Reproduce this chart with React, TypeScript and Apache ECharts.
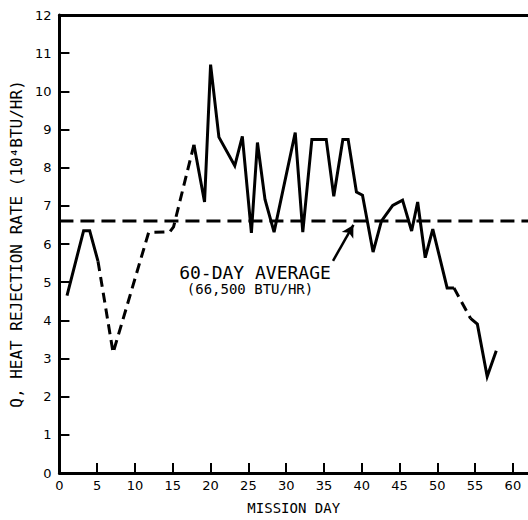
import React, { useEffect, useRef } from "react";
import * as echarts from "echarts";

const xTicks = [0, 5, 10, 15, 20, 25, 30, 35, 40, 45, 50, 55, 60];
const yTicks = [0, 1, 2, 3, 4, 5, 6, 7, 8, 9, 10, 11, 12];

const solidA: [number, number][] = [[1, 4.65], [3.2, 6.35], [4, 6.35], [5.1, 5.55]];
const dashedA: [number, number][] = [[5.1, 5.55], [7.1, 3.15], [11.8, 6.3], [14.6, 6.32], [15.1, 6.45], [17.8, 8.6]];
const solidB: [number, number][] = [
  [17.8, 8.6], [19.2, 7.1], [20.0, 10.7], [21.1, 8.8], [23.2, 8.05], [24.2, 8.82],
  [25.4, 6.29], [26.2, 8.66], [27.2, 7.17], [28.4, 6.31], [31.2, 8.92], [32.2, 6.31],
  [33.4, 8.74], [35.3, 8.74], [36.3, 7.25], [37.5, 8.74], [38.2, 8.74], [39.3, 7.36],
  [40.1, 7.28], [41.5, 5.79], [42.6, 6.6], [44.1, 7.01], [45.4, 7.15], [46.6, 6.34],
  [47.4, 7.1], [48.4, 5.64], [49.4, 6.39], [51.3, 4.85], [52.2, 4.85],
];
const dashedB: [number, number][] = [[52.2, 4.85], [54.4, 4.05]];
const solidC: [number, number][] = [[54.4, 4.05], [55.3, 3.9], [56.6, 2.53], [57.8, 3.2]];
const averageValue = 6.6;
const averageLine: [number, number][] = [[0, averageValue], [62, averageValue]];

const FONT = "DejaVu Sans";
const MONO = "DejaVu Sans Mono";

export default function App() {
  const ref = useRef<HTMLDivElement>(null);
  useEffect(() => {
    if (!ref.current) return;
    const chart = echarts.init(ref.current, undefined, { renderer: "svg" });
    const lineSeries = (data: [number, number][], dashed: boolean) => ({
      type: "line",
      data,
      symbol: "none",
      lineStyle: { color: "#000", width: 3, type: dashed ? [10, 6] : "solid", cap: "butt", join: "miter" },
      silent: true,
    });
    chart.setOption({
      animation: false,
      backgroundColor: "#fff",
      textStyle: { fontFamily: FONT, color: "#000" },
      grid: { left: 58, top: 15, width: 471, height: 460 },
      xAxis: [
        {
          type: "value",
          min: 0,
          max: 62,
          interval: 5,
          position: "bottom",
          name: "MISSION DAY",
          nameLocation: "middle",
          nameGap: 28,
          nameTextStyle: { fontFamily: MONO, fontSize: 14, color: "#000" },
          axisLine: { show: true, lineStyle: { color: "#000", width: 3 } },
          axisTick: { show: true, inside: true, length: 10, customValues: xTicks, lineStyle: { color: "#000", width: 2 } },
          axisLabel: { customValues: xTicks, fontFamily: FONT, fontSize: 13, color: "#000", margin: 6 },
          splitLine: { show: false },
        },
        {
          type: "value",
          min: 0,
          max: 62,
          position: "top",
          axisLine: { show: true, lineStyle: { color: "#000", width: 3 } },
          axisTick: { show: false },
          axisLabel: { show: false },
          splitLine: { show: false },
        },
      ],
      yAxis: {
        type: "value",
        min: 0,
        max: 12,
        interval: 1,
        name: "Q, HEAT REJECTION RATE (10⁴BTU/HR)",
        nameLocation: "middle",
        nameGap: 31,
        nameTextStyle: { fontFamily: MONO, fontSize: 16, color: "#000" },
        axisLine: { show: true, lineStyle: { color: "#000", width: 3 } },
        axisTick: { show: true, inside: true, length: 10, customValues: yTicks, lineStyle: { color: "#000", width: 2 } },
        axisLabel: { customValues: yTicks, fontFamily: FONT, fontSize: 13, color: "#000", margin: 8 },
        splitLine: { show: false },
      },
      series: [
        {
          type: "line",
          data: averageLine,
          symbol: "none",
          silent: true,
          lineStyle: { color: "#000", width: 3, type: [14, 7], cap: "butt" },
          markLine: {
            silent: true,
            symbol: ["none", "arrow"],
            symbolSize: [10, 12],
            lineStyle: { color: "#000", width: 2.5, type: "solid" },
            label: { show: false },
            data: [[{ coord: [36.2, 5.56] }, { coord: [38.9, 6.5] }]],
          },
        },
        lineSeries(solidA, false),
        lineSeries(dashedA, true),
        lineSeries(solidB, false),
        lineSeries(dashedB, true),
        lineSeries(solidC, false),
      ],
      graphic: [
        {
          type: "text",
          x: 255,
          y: 272,
          style: {
            text: "60-DAY AVERAGE",
            fontFamily: MONO,
            fontSize: 18,
            fill: "#000",
            align: "center",
            verticalAlign: "middle",
          },
        },
        {
          type: "text",
          x: 250,
          y: 289,
          style: {
            text: "(66,500 BTU/HR)",
            fontFamily: MONO,
            fontSize: 14,
            fill: "#000",
            align: "center",
            verticalAlign: "middle",
          },
        },
      ],
    });
    return () => chart.dispose();
  }, []);
  return <div ref={ref} style={{ position: "fixed", left: 0, top: 0, width: 528, height: 520 }} />;
}
